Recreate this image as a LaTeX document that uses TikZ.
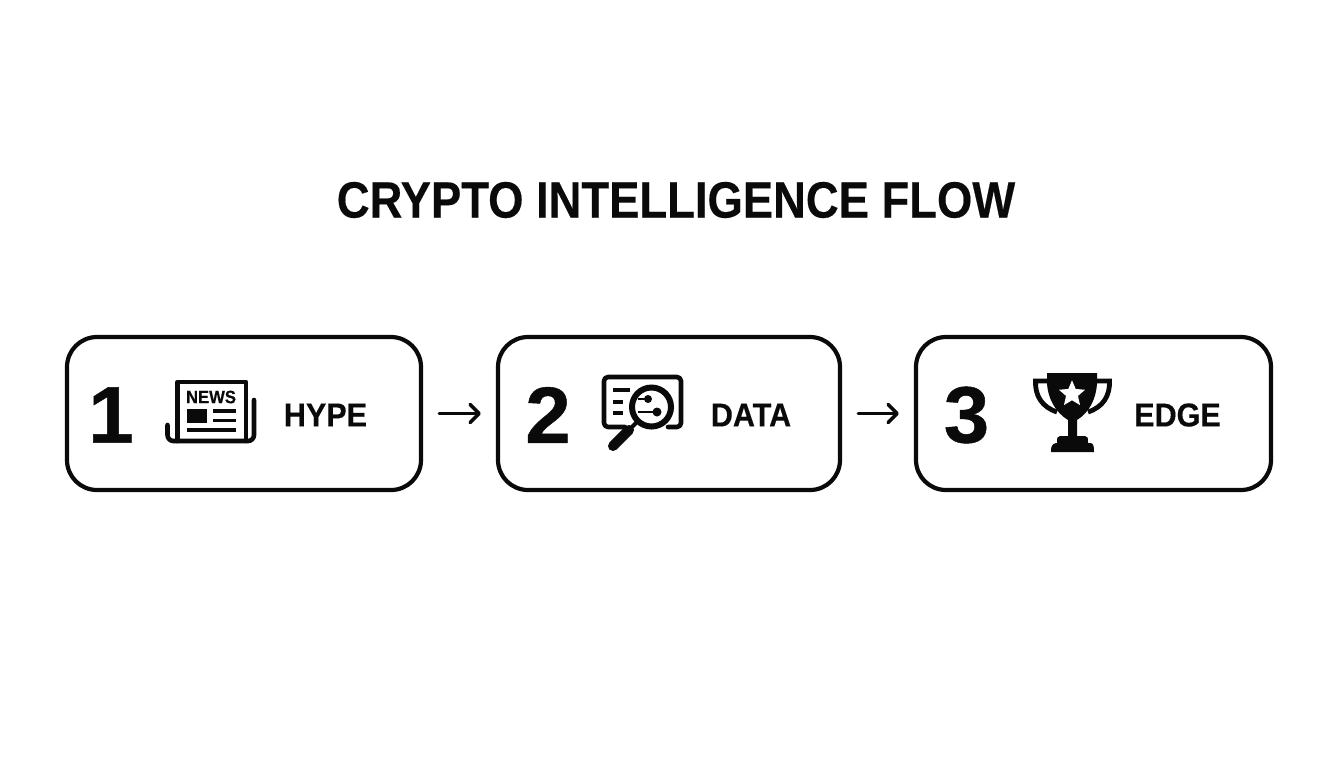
\documentclass[tikz,border=0pt]{standalone}
\usepackage{fontspec}
\setmainfont{Liberation Sans}
\newfontfamily\titlefont[FakeStretch=0.89,FakeBold=0.35]{Liberation Sans}
\newfontfamily\labelfont[FakeStretch=0.925,FakeBold=0.3]{Liberation Sans}
\newfontfamily\digitfont[FakeStretch=1.02,FakeBold=0.6]{Liberation Sans}
\usetikzlibrary{arrows.meta,shapes.geometric}
\tikzset{
  stagebox/.style={draw=ink,line width=2.1pt,rounded corners=15pt,minimum height=76.5pt,inner sep=0pt,fill=white},
  flowarrow/.style={draw=ink,line width=1.6pt,line cap=round,shorten <=8pt,shorten >=7.5pt,-{Straight Barb[length=4.5pt,width=9pt,line width=1.8pt,round]}},
  numlabel/.style={font=\fontsize{40}{40}\digitfont\bfseries\selectfont,text=ink,inner sep=0pt},
  steplabel/.style={font=\fontsize{16.5}{16.5}\labelfont\bfseries\selectfont,text=ink,inner sep=0pt},
  iconline/.style={draw=ink,line width=2.3pt,line cap=round,line join=round},
  iconthin/.style={draw=ink,line width=1.9pt,line cap=butt},
  iconfill/.style={fill=ink,draw=none},
}
\definecolor{ink}{HTML}{0A0A0A}
\begin{document}
\begin{tikzpicture}[x=0.5pt,y=-0.5pt]
\useasboundingbox (0,0) rectangle (1344,768);
\node[font=\fontsize{25.5}{25.5}\titlefont\bfseries\selectfont,text=ink,inner sep=0pt] (title) at (676,200) {CRYPTO INTELLIGENCE FLOW};
\node[stagebox,minimum width=177pt] (box1) at (244,413.5) {};
\node[stagebox,minimum width=171pt] (box2) at (669,413.5) {};
\node[stagebox,minimum width=177.5pt] (box3) at (1093.5,413.5) {};
\draw[flowarrow] (box1.east) -- (box2.west);
\draw[flowarrow] (box2.east) -- (box3.west);
\node[numlabel] (n1) at (111,415) {1};
\node[numlabel] (n2) at (548,415) {2};
\node[numlabel] (n3) at (966.5,415) {3};
\node[steplabel] (t1) at (325.5,415) {HYPE};
\node[steplabel] (t2) at (751,415) {DATA};
\node[steplabel] (t3) at (1177.5,415) {EDGE};
% newspaper
\draw[iconline] (167.5,425) -- (167.5,435) arc[start angle=180,end angle=90,radius=6] -- (248,441) arc[start angle=90,end angle=0,radius=6] -- (254,400);
\draw[iconline] (177.5,441) -- (177.5,382) -- (246,382) -- (246,441);
\node[font=\fontsize{9}{9}\labelfont\bfseries\selectfont,text=ink,inner sep=0pt] (news) at (211,397) {NEWS};
\fill[iconfill] (187,409) rectangle (207,423);
\draw[iconthin] (213,411) -- (236,411) (213,420.5) -- (236,420.5) (187,430) -- (236,430);
% data
\draw[iconline] (625,427) -- (608,427) arc[start angle=90,end angle=180,radius=4] -- (604,381) arc[start angle=180,end angle=270,radius=4] -- (677,377) arc[start angle=-90,end angle=0,radius=4] -- (681,423) arc[start angle=0,end angle=90,radius=4] -- (668,427);
\draw[draw=ink,line width=2.2pt,line cap=butt] (613,390) -- (630,390) (613,402) -- (623,402) (613,413) -- (623,413);
\draw[draw=ink,line width=3pt,fill=white] (651.5,407) circle[radius=19.5];
\draw[draw=ink,line width=1.4pt] (638,399) -- (648,399) (638,412) -- (657,412);
\fill[iconfill] (648,399) circle[radius=4] (657,412) circle[radius=4.5];
\draw[draw=ink,line width=2pt] (638,421) -- (628,431);
\draw[draw=ink,line width=5pt,line cap=round] (629,430) -- (613,446);
% trophy
\draw[draw=ink,line width=2.4pt,fill=none,line cap=butt] (1050,381) -- (1035.5,381) .. controls (1035,396) and (1042,407) .. (1057,412);
\draw[draw=ink,line width=2.4pt,fill=none,line cap=butt] (1094,381) -- (1109.5,381) .. controls (1110,396) and (1103,407) .. (1088,412);
\fill[iconfill] (1047,373) -- (1097,373) -- (1097,384) .. controls (1096,398) and (1090,412) .. (1077,420) -- (1077,436) -- (1085,436) .. controls (1088,436) and (1088,438) .. (1088,443) -- (1091,443) .. controls (1094,444) and (1094,448) .. (1094,452) -- (1051,452) .. controls (1051,448) and (1051,444) .. (1056,443) -- (1057,443) .. controls (1057,438) and (1057,436) .. (1060,436) -- (1068,436) -- (1068,420) .. controls (1055,412) and (1048,398) .. (1047,384) -- cycle;
\node[star,star points=5,star point ratio=2.2,fill=white,minimum size=25pt,inner sep=0pt,scale=0.55] (star) at (1072,394) {};
\end{tikzpicture}
\end{document}
